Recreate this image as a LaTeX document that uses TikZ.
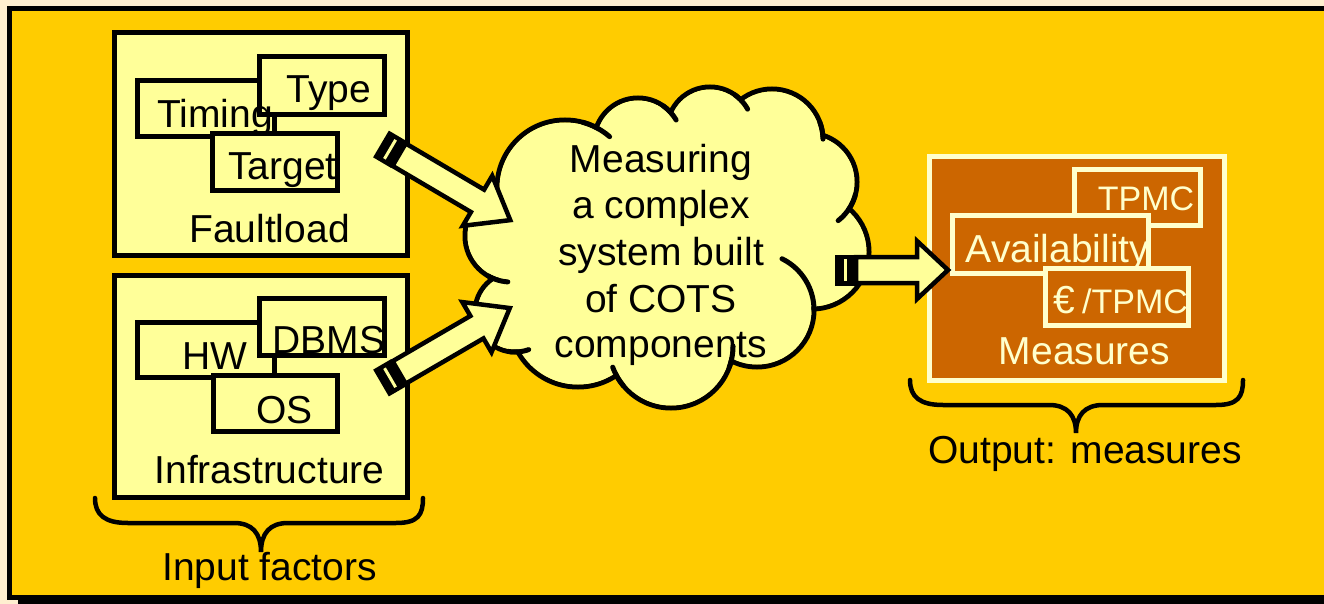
\documentclass[tikz,border=0pt]{standalone}
\usepackage{fontspec}
\setmainfont{Liberation Sans}
\definecolor{cream}{HTML}{FFEFD0}
\definecolor{gold}{HTML}{FFCC00}
\definecolor{lyellow}{HTML}{FFFF99}
\definecolor{mbrown}{HTML}{CC6600}
\definecolor{mcream}{HTML}{FFFFCC}
\newcommand{\stripedarrow}[4]{%
\begin{scope}[shift={#1}, rotate=#2]
 \fill[black] (0,-15.5) rectangle (21,15.5);
 \fill[lyellow] (9,-11) rectangle (12,11);
 \draw[arrowbody] (21,-13) -- ({#3-#4},-13) -- ({#3-#4},-29) -- (#3,0) -- ({#3-#4},29) -- ({#3-#4},13) -- (21,13) -- cycle;
\end{scope}}
\newcommand{\cloudtick}[5]{%
 \draw[cloudline] plot[domain=#4:#5, samples=20, variable=\tt] ({#1+#3*cos(\tt)},{#2+#3*sin(\tt)});}
\begin{document}
\begin{tikzpicture}[x=1pt,y=-1pt,
 lbl/.style={inner sep=0pt, anchor=base, font=\fontsize{39}{46}\selectfont},
 slbl/.style={inner sep=0pt, anchor=base, font=\fontsize{34}{40}\selectfont},
 boxline/.style={draw=black, line width=4.5, fill=lyellow},
 mbox/.style={draw=mcream, line width=4.5, fill=mbrown},
 arrowbody/.style={draw=black, line width=4.5, fill=lyellow, line join=miter},
 bracestyle/.style={draw=black, line width=4.5, line cap=round},
 cloudline/.style={draw=black, line width=5, line cap=round}]
\useasboundingbox (0,0) rectangle (1324,604);
% background and frame
\fill[cream] (0,0) rectangle (1324,604);
\fill[black] (18,596) rectangle (1330,604);
\draw[line width=5, fill=gold] (9.5,8.5) rectangle (1340,597.5);

% Faultload
\draw[boxline] (114.5,32.5) rectangle (407.5,255.5);
\draw[boxline] (137.5,80.5) rectangle (274.5,136.5);
\draw[boxline] (259.5,56.5) rectangle (384.5,114.5);
\draw[boxline] (212.5,133.5) rectangle (337.5,190.5);
\node[lbl] (timing) at (215,128) {Timing};
\node[lbl] (type) at (329,103) {Type};
\node[lbl] (target) at (282.5,180) {Target};
\node[lbl] (faultload) at (269.5,242) {Faultload};

% Infrastructure
\draw[boxline] (114.5,275.5) rectangle (407.5,497.5);
\draw[boxline] (137.5,322.5) rectangle (274.5,377.5);
\draw[boxline] (259.5,298.5) rectangle (384.5,355.5);
\draw[boxline] (213.5,375.5) rectangle (337.5,431.5);
\node[lbl] (hw) at (214.5,369) {HW};
\node[lbl] (dbms) at (329,353) {DBMS};
\node[lbl] (os) at (284.5,423) {OS};
\node[lbl] (infra) at (269.5,483) {Infrastructure};

% Cloud
\foreach \cx/\cy/\r in {565/188/68, 638/142/44, 710/130/43, 772/140/51, 808/182/49, 812/252/57, 757/310/57, 671/346/62, 578/318/69, 515/312/40, 511/236/46}
  \draw[line width=5] (\cx,\cy) circle[radius=\r];
\foreach \cx/\cy/\r in {565/188/68, 638/142/44, 710/130/43, 772/140/51, 808/182/49, 812/252/57, 757/310/57, 671/346/62, 578/318/69, 515/312/40, 511/236/46}
  \fill[lyellow] (\cx,\cy) circle[radius=\r-2.5];
\fill[lyellow] (565,188) -- (638,142) -- (710,130) -- (772,140) -- (808,182) -- (812,252) -- (757,310) -- (671,346) -- (578,318) -- (515,312) -- (511,236) -- cycle;
\fill[lyellow] (670,245) circle[radius=105];
\cloudtick{565}{188}{68}{-75}{-49}
\cloudtick{638}{142}{44}{-55}{-30}
\cloudtick{710}{130}{43}{-55}{-29}
\cloudtick{772}{140}{51}{-20}{-1}
\cloudtick{808}{182}{49}{15}{52}
\cloudtick{757}{310}{57}{-64}{0}
\cloudtick{671}{346}{62}{0}{20}
\cloudtick{671}{346}{62}{140}{160}
\cloudtick{515}{312}{40}{70}{100}
\cloudtick{511}{236}{46}{94}{120}
\node[lbl] (c1) at (661,172) {Measuring};
\node[lbl] (c2) at (661,218) {a complex};
\node[lbl] (c3) at (661,265) {system built};
\node[lbl] (c4) at (661,312) {of COTS};
\node[lbl] (c5) at (661,357) {components};

% Measures box
\draw[mbox] (929.5,156.5) rectangle (1224.5,380.5);
\draw[mbox] (1074.5,169.5) rectangle (1200.5,225.5);
\draw[mbox] (952.5,215.5) rectangle (1148.5,273.5);
\draw[mbox] (1045.5,268.5) rectangle (1188.5,325.5);
\node[slbl, text=mcream] (tpmc) at (1146,211) {TPMC};
\node[lbl, text=mcream] (avail) at (1057.5,262) {Availability};
\node[lbl, text=mcream, anchor=base west] (euro) at (1053,313) {€};
\node[slbl, text=mcream, anchor=base west] (eurotpmc) at (1082,313) {/TPMC};
\node[lbl, text=mcream] (measures) at (1084.5,364) {Measures};

% Arrows
\coordinate (a1) at (381,144);
\coordinate (a2) at (381,383);
\coordinate (a3) at (835,270);
\stripedarrow{(a1)}{-30.5}{150}{38}
\stripedarrow{(a2)}{30.2}{149}{38}
\stripedarrow{(a3)}{0}{113}{31}

% Braces
\draw[bracestyle] (95,498) .. controls (95,515) and (105,523) .. (128,523) -- (234,523)
  .. controls (252,523) and (261,533) .. (261,552)
  .. controls (261,533) and (270,523) .. (288,523) -- (396,523)
  .. controls (418,523) and (423,515) .. (423,498);
\node[lbl] (input) at (269.5,580) {Input factors};
\draw[bracestyle] (910,380) .. controls (910,397) and (920,405) .. (943,405) -- (1049,405)
  .. controls (1067,405) and (1076,415) .. (1076,433)
  .. controls (1076,415) and (1085,405) .. (1103,405) -- (1216,405)
  .. controls (1238,405) and (1243,397) .. (1243,380);
\node[lbl] (output) at (1085,463) {Output: measures};
\end{tikzpicture}
\end{document}
